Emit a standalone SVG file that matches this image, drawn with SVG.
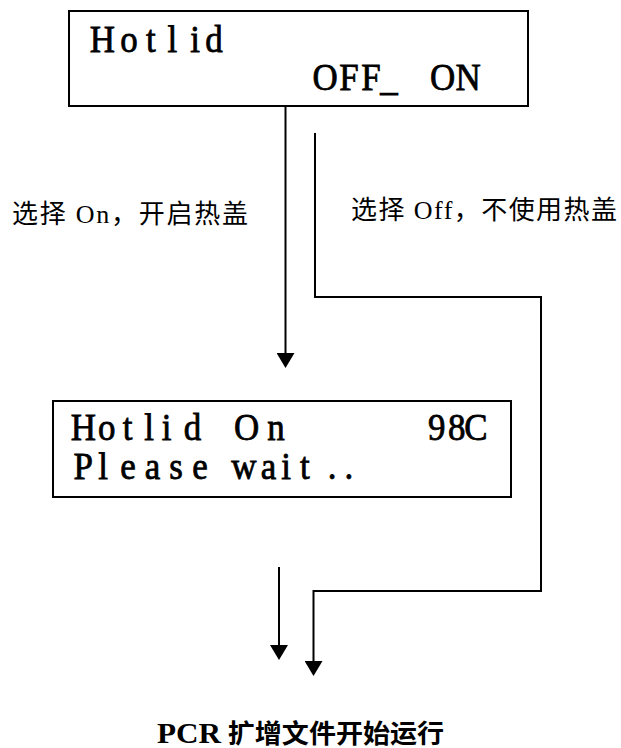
<svg xmlns="http://www.w3.org/2000/svg" width="621" height="748" viewBox="0 0 621 748">
<style>
.box{fill:#fff;stroke:#000;stroke-width:2}
.lcd{font-family:"Liberation Serif","DejaVu Serif",serif;font-size:38px;fill:#000;stroke:#000;stroke-width:0.8;text-anchor:middle}
.lbl{font-family:"Liberation Serif","Noto Sans CJK SC",serif;font-size:26px;fill:#000}
.bold{font-weight:bold}
.wire{fill:none;stroke:#000;stroke-width:2}
</style>
<defs>
<marker id="arr" markerUnits="userSpaceOnUse" markerWidth="16" markerHeight="18" viewBox="0 0 16 18" refX="0" refY="9" orient="auto">
<path d="M0,0 L15,9 L0,18 z" fill="#000"/>
</marker>
</defs>
<rect width="621" height="748" fill="#fff"/>
<g id="node-hotlid-select">
<rect class="box" x="69" y="11" width="459" height="95"/>
<g transform="scale(0.92 1)">
<text class="lcd" x="111.4 140.2 163.9 187.5 212 232.6" y="52">Hotlid</text>
<text class="lcd" x="353.3 379.3 403.3 422.8" y="90">OFF_</text>
<text class="lcd" x="481 508.7" y="90">ON</text>
</g>
</g>
<g id="node-hotlid-on">
<rect class="box" x="53" y="401" width="458" height="96"/>
<g transform="scale(0.92 1)">
<text class="lcd" x="90.5 116 138.6 162 181.2 209.2" y="440">Hotlid</text>
<text class="lcd" x="268.2 300" y="440">On</text>
<text class="lcd" x="474.7 496.4 517.4" y="440">98C</text>
<text class="lcd" x="90.5 112 139.1 165.8 191.3 217.4 241.3 265.2 291.8 310.9 331.5 360.9 379.3" y="479">Please wait..</text>
</g>
</g>
<g id="node-pcr-start">
<text class="lbl bold" x="157" y="743" textLength="287" lengthAdjust="spacingAndGlyphs"><tspan font-size="30">PCR</tspan> 扩增文件开始运行</text>
</g>
<g id="connectors">
<path class="wire" d="M285.5,106 V353" marker-end="url(#arr)"/>
<path class="wire" d="M315,133 V297 H541 V591 H313.5 V661" marker-end="url(#arr)"/>
<path class="wire" d="M279,567 V645" marker-end="url(#arr)"/>
<text class="lbl" x="12" y="223" textLength="236" lengthAdjust="spacing">选择 On，开启热盖</text>
<text class="lbl" x="351" y="219" textLength="266" lengthAdjust="spacing">选择 Off，不使用热盖</text>
</g>
</svg>
